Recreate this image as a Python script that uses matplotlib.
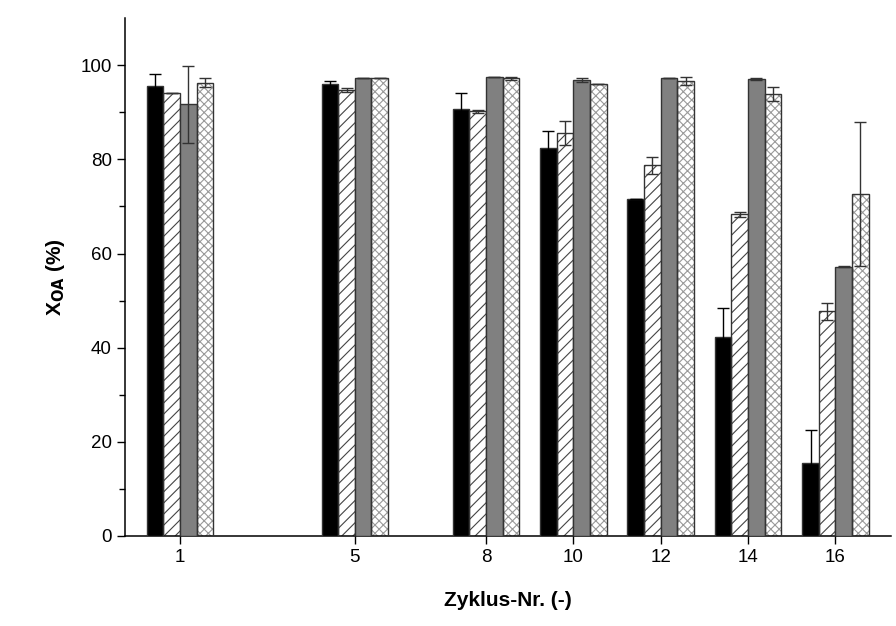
import numpy as np
import matplotlib.pyplot as plt

plt.rcParams['font.family'] = ['Liberation Sans', 'DejaVu Sans']
plt.rcParams['hatch.linewidth'] = 0.8

cycles = [1, 5, 8, 10, 12, 14, 16]

# conversion X_OA (%) per series, with standard deviation
black_vals = [95.5, 96.1, 90.7, 82.4, 71.6, 42.2, 15.4]
black_err = [2.6, 0.6, 3.3, 3.6, 0.0, 6.2, 7.2]
hatch_vals = [94.1, 94.7, 90.2, 85.6, 78.7, 68.3, 47.7]
hatch_err = [0.0, 0.4, 0.3, 2.5, 1.7, 0.5, 1.8]
gray_vals = [91.7, 97.3, 97.4, 96.8, 97.3, 97.0, 57.2]
gray_err = [8.2, 0.0, 0.0, 0.4, 0.0, 0.2, 0.1]
cross_vals = [96.3, 97.3, 97.2, 96.1, 96.7, 93.8, 72.6]
cross_err = [0.9, 0.0, 0.3, 0.0, 0.8, 1.5, 15.3]

series = [
    (black_vals, black_err, 'black', None, None),
    (hatch_vals, hatch_err, 'white', '///', '#444444'),
    (gray_vals, gray_err, '#808080', None, None),
    (cross_vals, cross_err, 'white', 'xxxx', '#9a9a9a'),
]

fig = plt.figure(figsize=(8.96, 6.26), dpi=100)
ax = fig.add_axes([0.1395, 0.1438, 0.9944 - 0.1395, 0.971 - 0.1438])

width = 0.38
x = np.array(cycles, dtype=float)
for i, (vals, err, fc, hatch, hc) in enumerate(series):
    pos = x + (i - 1.5) * width
    if hatch:
        ax.bar(pos, vals, width, color=fc, hatch=hatch, edgecolor=hc, linewidth=0, zorder=2)
        ax.bar(pos, vals, width, fill=False, edgecolor='#333333', linewidth=1.0, zorder=3)
    else:
        ax.bar(pos, vals, width, color=fc, edgecolor='#333333', linewidth=1.0, zorder=3)
    ecol = 'black' if fc == 'black' else '#333333'
    ax.errorbar(pos, vals, yerr=err, fmt='none', ecolor=ecol, elinewidth=1.0,
                capsize=4, capthick=1.0, zorder=4)

ax.set_xlim(-0.26, 17.27)
ax.set_ylim(0, 110)
ax.set_xticks(cycles)
ax.set_yticks(np.arange(0, 101, 20))
ax.set_yticks(np.arange(10, 110, 20), minor=True)
ax.spines['top'].set_visible(False)
ax.spines['right'].set_visible(False)
for s in ['left', 'bottom']:
    ax.spines[s].set_linewidth(1.1)
ax.tick_params(axis='both', which='major', direction='out', length=6, width=1.0, labelsize=13.5)
ax.tick_params(axis='y', which='minor', direction='out', length=4, width=1.0)

ax.set_xlabel('Zyklus-Nr. (-)', fontsize=15, fontweight='bold', labelpad=18)
ax.set_ylabel(r'X$_{\mathbf{OA}}$ (%)', fontsize=15, fontweight='bold', labelpad=10)

fig.savefig('out.png', dpi=100, facecolor='white')
